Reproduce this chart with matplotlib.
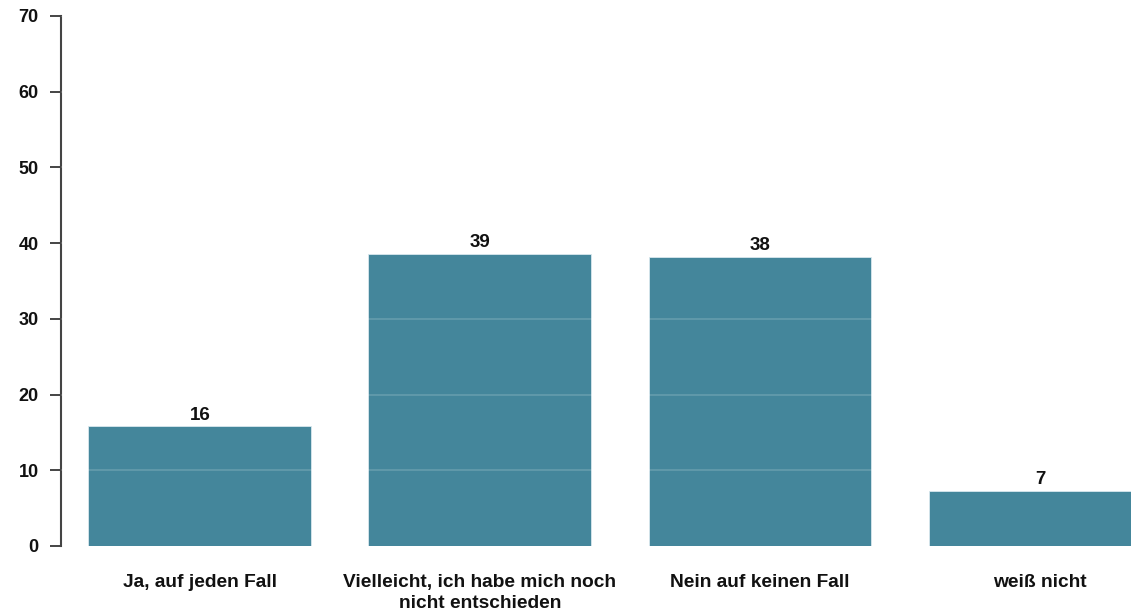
import matplotlib.pyplot as plt

# Umfrageergebnis in Prozent
categories = ["Ja, auf jeden Fall",
              "Vielleicht, ich habe mich noch\nnicht entschieden",
              "Nein auf keinen Fall",
              "weiß nicht"]
values = [15.8, 38.6, 38.2, 7.3]
labels = ["16", "39", "38", "7"]
yticks = [0, 10, 20, 30, 40, 50, 60, 70]

plt.rcParams['font.family'] = ['Liberation Sans', 'DejaVu Sans']
plt.rcParams['font.weight'] = 'bold'

fig = plt.figure(figsize=(11.31, 6.12), dpi=100)
ax = fig.add_axes([61 / 1131, 1 - 546 / 612, 1 - 61 / 1131, (546 - 16) / 612])

x = range(len(categories))
bars = ax.bar(x, values, width=0.796, color="#44869b", edgecolor="#d8e8ee",
              linewidth=0.6, zorder=2)

# helle Gitterlinien, nur auf den Balken sichtbar
for t in yticks[1:]:
    ax.axhline(t, color="white", alpha=0.18, linewidth=1.2, zorder=3)

for b, lab in zip(bars, labels):
    ax.annotate(lab, (b.get_x() + b.get_width() / 2, b.get_height()),
                xytext=(0, 2), textcoords="offset points",
                ha="center", va="bottom", fontsize=13.5, fontweight="bold",
                color="#111111")

ax.set_xlim(-0.496, 3.325)
ax.set_ylim(0, 70)
ax.set_yticks(yticks)
ax.set_xticks(list(x))
ax.set_xticklabels(categories, fontsize=13.8, fontweight="bold", color="#111111",
                   linespacing=1.3)
ax.tick_params(axis="x", length=0, pad=20)
ax.tick_params(axis="y", length=8, width=1.4, color="#444444",
               labelsize=13, labelcolor="#111111", pad=8)

for s in ["top", "right", "bottom"]:
    ax.spines[s].set_visible(False)
ax.spines["left"].set_linewidth(1.5)
ax.spines["left"].set_color("#444444")

fig.savefig("out.png", dpi=100)
